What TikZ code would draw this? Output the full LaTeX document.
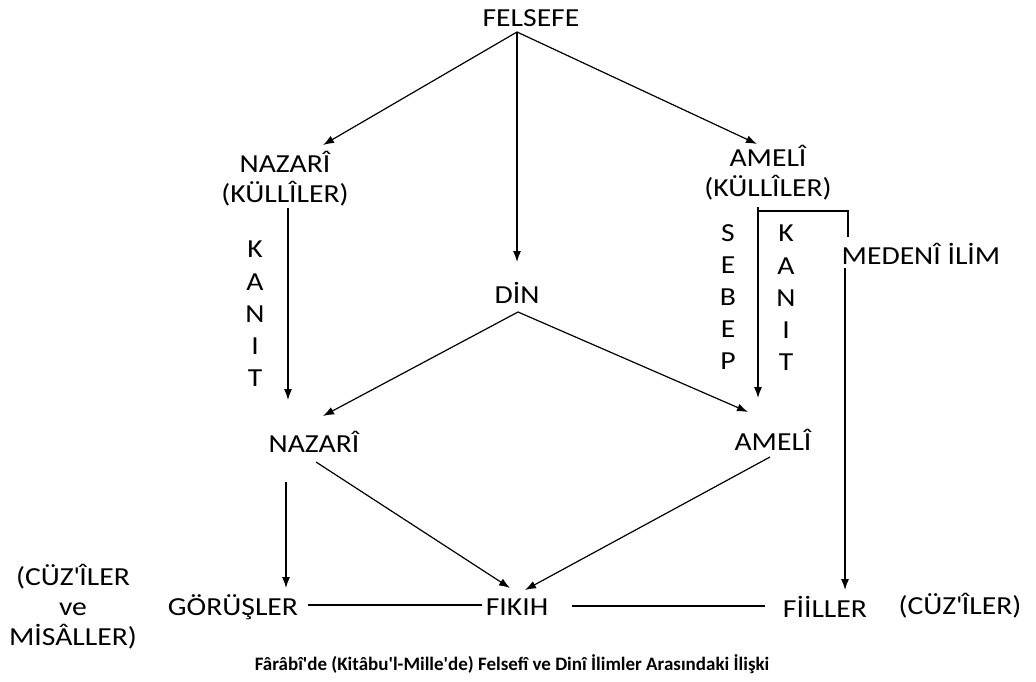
\documentclass[tikz,border=0pt]{standalone}
\usepackage{fontspec}
\setmainfont{Carlito}[FakeStretch=1.14]
\newfontfamily\capfont{Carlito}[FakeStretch=1.0]
\usetikzlibrary{arrows.meta,calc}
\begin{document}
\begin{tikzpicture}[x=1pt,y=-1pt,
  lbl/.style={inner sep=0pt,align=center,font=\fontsize{26}{30}\selectfont},
  stack/.style={inner sep=0pt,align=center,font=\fontsize{26}{32.2}\selectfont},
  ln/.style={line width=1.2pt},
  arr/.style={ln,-{Latex[length=11pt,width=8pt]}}]
\useasboundingbox (0,0) rectangle (1036,682);
\fill[white] (0,0) rectangle (1036,682);
% nodes
\node[lbl] (felsefe) at (531,18) {FELSEFE};
\node[lbl] (nazk) at (285,179) {NAZARÎ\\(KÜLLÎLER)};
\node[lbl] (amek) at (768,173) {AMELÎ\\(KÜLLÎLER)};
\node[lbl] (din) at (517,293) {DİN};
\node[lbl] (naz) at (314,442) {NAZARÎ};
\node[lbl] (ame) at (773,440) {AMELÎ};
\node[lbl] (medeni) at (921,254) {MEDENÎ İLİM};
\node[lbl] (gor) at (233,607) {GÖRÜŞLER};
\node[lbl] (fikih) at (517,607) {FIKIH};
\node[lbl] (fiil) at (825,607) {FİİLLER};
\node[lbl] (cuzr) at (960,606) {(CÜZ\textquotesingle ÎLER)};
\node[lbl] (cuzl) at (73,607) {(CÜZ\textquotesingle ÎLER\\ve\\MİSÂLLER)};
\node[stack] (kanitl) at (255,314) {K\\A\\N\\I\\T};
\node[stack] (sebep) at (728,297) {S\\E\\B\\E\\P};
\node[stack] (kanitr) at (786,298) {K\\A\\N\\I\\T};
\node[inner sep=0pt,font=\capfont\bfseries\fontsize{19}{22}\selectfont] (cap) at (512,664)
  {Fârâbî'de (Kitâbu'l-Mille'de) Felsefî ve Dinî İlimler Arasındaki İlişki};
% coordinates
\coordinate (fapex) at (517,32);
\coordinate (dapex) at (518,312);
\coordinate (nk1) at (288,208);
\coordinate (nk2) at (288,400);
\coordinate (ak1) at (758,207);
\coordinate (ak2) at (758,398);
\coordinate (br1) at (758,211);
\coordinate (br2) at (848,237);
\coordinate (md1) at (845,268);
\coordinate (md2) at (845,590);
\coordinate (n1) at (286,482);
\coordinate (n2) at (286,588);
\coordinate (n3) at (316,462);
\coordinate (f1) at (510,588);
\coordinate (a3) at (770,457);
\coordinate (f2) at (525,590);
\coordinate (h1) at (308,605);
\coordinate (h2) at (482,605);
\coordinate (h3) at (572,606);
\coordinate (h4) at (765,606);
% connectors
\draw[arr] (fapex) -- (323,145);
\draw[arr] (fapex) -- (757,144);
\draw[arr] (fapex) -- (517,262);
\draw[arr] (nk1) -- (nk2);
\draw[arr] (ak1) -- (ak2);
\draw[ln] (br1) -| (br2);
\draw[arr] (md1) -- (md2);
\draw[arr] (dapex) -- (323,416);
\draw[arr] (dapex) -- (748,412);
\draw[arr] (n1) -- (n2);
\draw[arr] (n3) -- (f1);
\draw[arr] (a3) -- (f2);
\draw[ln] (h1) -- (h2);
\draw[ln] (h3) -- (h4);
\end{tikzpicture}
\end{document}
